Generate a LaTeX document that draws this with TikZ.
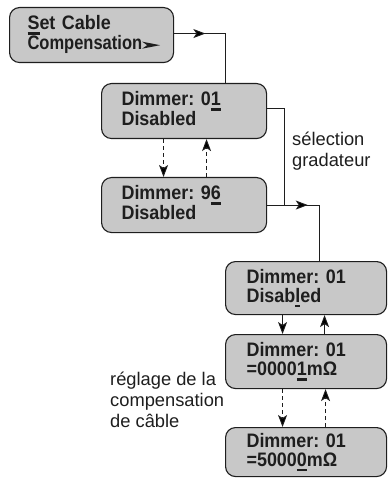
\documentclass[tikz,border=0pt]{standalone}
\usepackage{fontspec}
\usepackage{graphicx}
\setmainfont{Liberation Sans}
\newfontfamily\lcdfont[FakeStretch=0.92]{Liberation Sans}
\usetikzlibrary{arrows.meta,decorations.markings}
\newcommand\curs[1]{\setbox0\hbox{#1}\rlap{\rule[-5pt]{\wd0}{2.4pt}}\box0}
\newcommand\lcdlines[2]{\rule{0pt}{14pt}#1\\#2\rule[-5pt]{0pt}{5pt}}
\definecolor{boxfill}{RGB}{200,200,200}
\definecolor{ink}{RGB}{30,30,30}
\tikzset{
  lcd/.style={draw=ink, line width=1.1pt, fill=boxfill, rounded corners=10pt,
    anchor=north west, align=left, inner ysep=0pt,
    font=\lcdfont\bfseries\fontsize{19.5}{19}\selectfont\frenchspacing, text=ink},
  conn/.style={draw=ink, line width=0.9pt},
  tip/.style={-{Stealth[length=12pt,width=9pt,inset=3pt]}},
  dasharrow/.style={conn, tip, dash pattern=on 4pt off 3pt},
  solidarrow/.style={conn, tip},
  midarrow/.style={postaction={decorate}, decoration={markings,
    mark=at position #1 with {\arrow{Stealth[length=12pt,width=9pt,inset=3pt]}}}},
  note/.style={anchor=base west, align=left, inner sep=0pt,
    font=\fontsize{18.3}{21}\selectfont, text=ink}
}
\begin{document}
\begin{tikzpicture}[x=1pt,y=-1pt]
\useasboundingbox (0,0) rectangle (390,478);
\node[lcd, minimum height=55pt, inner xsep=18pt, text width=128pt] (b1) at (9,7)
  {\lcdlines{\curs{S}et Cable}{\mbox{\scalebox{0.92}[1]{Compensation}\tikz[x=1pt,y=1pt,baseline=0pt,sharp corners]{\fill[ink] (2,1) -- (20,4.5) -- (2,8) -- (7,4.5) -- cycle;}}}};
\node[lcd, minimum height=55pt, inner xsep=20pt, text width=125pt] (b2) at (101,83)
  {\lcdlines{Dimmer: 0\curs{1}}{Disabled}};
\node[lcd, minimum height=55pt, inner xsep=20pt, text width=125pt] (b3) at (101,177)
  {\lcdlines{Dimmer: 9\curs{6}}{Disabled}};
\node[lcd, minimum height=53pt, inner xsep=21pt, text width=119pt] (b4) at (225,261)
  {\lcdlines{Dimmer: 01}{Disab\curs{l}ed}};
\node[lcd, minimum height=54pt, inner xsep=21pt, text width=119pt] (b5) at (225,334)
  {\lcdlines{Dimmer: 01}{=0000\curs{1}mΩ}};
\node[lcd, minimum height=49pt, inner xsep=21pt, text width=119pt] (b6) at (225,427)
  {\lcdlines{Dimmer: 01}{=5000\curs{0}mΩ}};

\draw[conn, midarrow=0.31] ([yshift=1.5pt]b1.east) -| ([xshift=41.5pt]b2.north);
\path ([yshift=0pt]b3.east) ++(17,0) coordinate (j);
\draw[conn] ([yshift=2.5pt]b2.east) -| (j);
\draw[conn, midarrow=0.375] (b3.east) -| ([xshift=13.5pt]b4.north);

\draw[dasharrow] ([xshift=-20.5pt]b2.south) -- ([xshift=-20.5pt]b3.north);
\draw[dasharrow] ([xshift=22.5pt]b3.north) -- ([xshift=22.5pt]b2.south);
\draw[solidarrow] ([xshift=-23.5pt]b4.south) -- ([xshift=-23.5pt]b5.north);
\draw[solidarrow] ([xshift=18.5pt]b5.north) -- ([xshift=18.5pt]b4.south);
\draw[dasharrow] ([xshift=-23.5pt]b5.south) -- ([xshift=-23.5pt]b6.north);
\draw[dasharrow] ([xshift=19.5pt]b6.north) -- ([xshift=19.5pt]b5.south);

\node[note] (t1) at (292,167) {sélection\\gradateur};
\node[note] (t2) at (110,427) {réglage de la\\compensation\\de câble};
\end{tikzpicture}
\end{document}
